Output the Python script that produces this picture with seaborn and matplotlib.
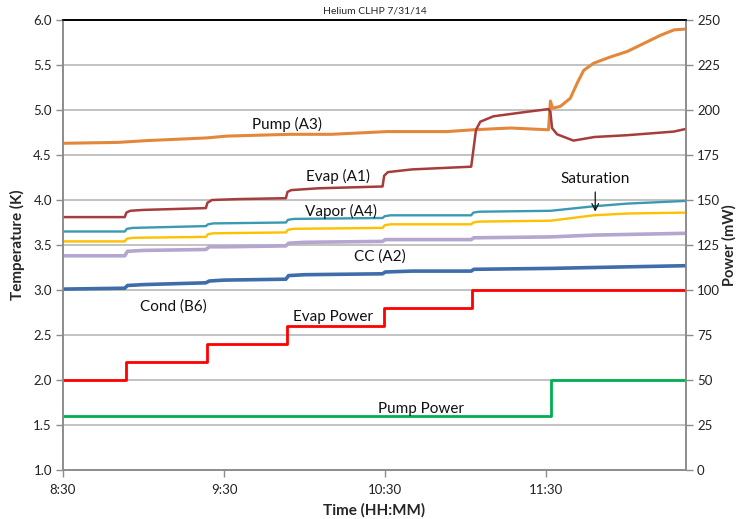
import matplotlib
matplotlib.use("Agg")
import matplotlib.pyplot as plt
import seaborn as sns
import pandas as pd

# ---- data (time in minutes after 8:30) ----
tick_minutes = [0, 60, 120, 180]
tick_labels = ["8:30", "9:30", "10:30", "11:30"]

evap_t = [0, 23.0, 23.6, 25, 30, 53.2, 53.8, 55.5, 65, 83.0, 83.6, 85, 95, 119.0, 119.6, 121, 130,
          152.0, 152.8, 153.8, 155.4, 160.3, 172.8, 180.8, 181.5, 182.1, 184.0, 190.1, 197.9, 210.1, 227.4, 232]
evap_k = [3.81, 3.81, 3.86, 3.88, 3.89, 3.91, 3.97, 4.00, 4.01, 4.02, 4.09, 4.11, 4.13, 4.15, 4.27, 4.31, 4.34,
          4.37, 4.55, 4.78, 4.87, 4.93, 4.98, 5.01, 4.98, 4.80, 4.73, 4.66, 4.70, 4.72, 4.76, 4.79]

pump_t = [0, 20.4, 31.2, 53.6, 61, 84.6, 100, 120.6, 142.9, 152.7, 166.6, 180.8, 181.5, 182.3, 185.2,
          188.9, 191.5, 193.9, 197.6, 203.9, 210.1, 216.3, 222.5, 227.5, 232]
pump_k = [4.63, 4.64, 4.66, 4.69, 4.71, 4.73, 4.73, 4.76, 4.76, 4.78, 4.80, 4.78, 5.10, 5.02, 5.04,
          5.13, 5.30, 5.44, 5.52, 5.59, 5.65, 5.74, 5.83, 5.89, 5.90]

vapor_t = [0, 23.0, 23.8, 26, 53.2, 54, 56, 83.0, 83.8, 86, 119.0, 119.8, 122, 152.0, 152.8, 155, 181.6, 197.6, 210.1, 232]
vapor_k = [3.65, 3.65, 3.68, 3.69, 3.71, 3.73, 3.74, 3.75, 3.78, 3.79, 3.80, 3.82, 3.83, 3.83, 3.86, 3.87, 3.88, 3.93, 3.96, 3.99]

sat_t = vapor_t
sat_k = [3.54, 3.54, 3.57, 3.58, 3.59, 3.62, 3.63, 3.64, 3.67, 3.68, 3.69, 3.72, 3.73, 3.73, 3.75, 3.76, 3.77, 3.83, 3.85, 3.86]

cc_t = [0, 23.0, 24, 30, 53.2, 54.5, 60, 83.0, 84, 90, 119.0, 120, 130, 152.0, 153, 181.6, 197.6, 232]
cc_k = [3.38, 3.38, 3.43, 3.44, 3.45, 3.48, 3.48, 3.49, 3.52, 3.53, 3.54, 3.56, 3.56, 3.56, 3.58, 3.59, 3.61, 3.63]

cond_t = cc_t
cond_k = [3.01, 3.02, 3.05, 3.06, 3.08, 3.10, 3.11, 3.12, 3.16, 3.17, 3.18, 3.20, 3.21, 3.21, 3.23, 3.24, 3.25, 3.27]

evap_pw_t = [0, 23.4, 53.6, 83.4, 119.4, 152.3, 232]
evap_pw_mw = [50, 60, 70, 80, 90, 100, 100]

pump_pw_t = [0, 181.6, 232]
pump_pw_mw = [30, 50, 50]

# ---- style ----
sns.set_theme(style="white")
plt.rcParams["font.family"] = ["Lato", "DejaVu Sans"]

fig = plt.figure(figsize=(7.37, 5.19), dpi=100)
ax2 = fig.add_axes([63/737, 1-470/519, (686-63)/737, (470-20)/519])
ax = ax2.twinx()  # temperature axis on top, power axis behind
ax.yaxis.set_label_position("left")
ax.yaxis.tick_left()
ax2.yaxis.set_label_position("right")
ax2.yaxis.tick_right()

# grid lines (drawn on the power axis, behind everything)
for p in range(25, 250, 25):
    ax2.axhline(p, color="#BDBDBD", linewidth=1.3, zorder=0)

sns.lineplot(x=evap_pw_t, y=evap_pw_mw, ax=ax2, color="#FF0000", linewidth=2.0,
             estimator=None, sort=False, drawstyle="steps-post", zorder=3)
sns.lineplot(x=pump_pw_t, y=pump_pw_mw, ax=ax2, color="#00B050", linewidth=2.0,
             estimator=None, sort=False, drawstyle="steps-post", zorder=3)

temp_series = [
    (pump_t, pump_k, "#E3873A", 2.2),
    (evap_t, evap_k, "#A63C3C", 1.8),
    (vapor_t, vapor_k, "#3A9AB2", 1.7),
    (sat_t, sat_k, "#FFC000", 1.7),
    (cc_t, cc_k, "#B4A6CF", 2.6),
    (cond_t, cond_k, "#3F6DAA", 2.6),
]
for t, v, c, lw in temp_series:
    sns.lineplot(x=t, y=v, ax=ax, color=c, linewidth=lw, estimator=None, sort=False)

ax.set_xlim(0, 232)
ax2.set_xlim(0, 232)
ax.set_ylim(1.0, 6.0)
ax2.set_ylim(0, 250)
ax.set_yticks([1.0 + 0.5*i for i in range(11)])
ax.set_yticklabels([f"{1.0 + 0.5*i:.1f}" for i in range(11)])
ax2.set_yticks(list(range(0, 251, 25)))
ax2.set_xticks(tick_minutes)
ax2.set_xticklabels(tick_labels)

for a in (ax, ax2):
    for s in ("left", "right", "bottom"):
        a.spines[s].set_color("#8C8C8C")
        a.spines[s].set_linewidth(1.2)
    a.spines["top"].set_color("#000000")
    a.spines["top"].set_linewidth(1.2)
ax.patch.set_visible(False)

ax.tick_params(axis="y", which="both", direction="out", length=5, width=1, color="#8C8C8C",
               labelsize=9.5, labelcolor="#222222", pad=3, left=True, right=False,
               labelleft=True, labelright=False)
ax2.tick_params(axis="x", direction="out", length=5, width=1, color="#8C8C8C",
                labelsize=9.5, labelcolor="#222222", pad=5, bottom=True)
ax2.tick_params(axis="y", direction="out", length=5, width=1, color="#8C8C8C",
                labelsize=9.5, labelcolor="#222222", pad=3, right=True, left=False,
                labelright=True, labelleft=False)

ax2.set_xlabel("Time (HH:MM)", fontsize=11, fontweight="bold", labelpad=5)
ax.set_ylabel("Temperature (K)", fontsize=11, fontweight="bold", labelpad=6)
ax2.set_ylabel("Power (mW)", fontsize=10.5, fontweight="bold", labelpad=1)
ax2.set_title("Helium CLHP 7/31/14", fontsize=7.5, pad=5)

lab_kw = dict(fontsize=11, color="#111111", ha="center", va="center", zorder=5)
ax.text(83.4, 4.84, "Pump (A3)", **lab_kw)
ax.text(102.5, 4.26, "Evap (A1)", **lab_kw)
ax.text(103.6, 3.87, "Vapor (A4)", **lab_kw)
ax.text(118.1, 3.37, "CC (A2)", **lab_kw)
ax.text(41.1, 2.82, "Cond (B6)", **lab_kw)
ax.text(100.5, 2.70, "Evap Power", **lab_kw)
ax.text(133.4, 1.68, "Pump Power", **lab_kw)
ax.text(198.0, 4.23, "Saturation", **lab_kw)
ax.annotate("", xy=(198.2, 3.84), xytext=(198.2, 4.12),
            arrowprops=dict(arrowstyle="->", color="#111111", lw=0.9), zorder=5)

fig.savefig("out.png", dpi=100)
